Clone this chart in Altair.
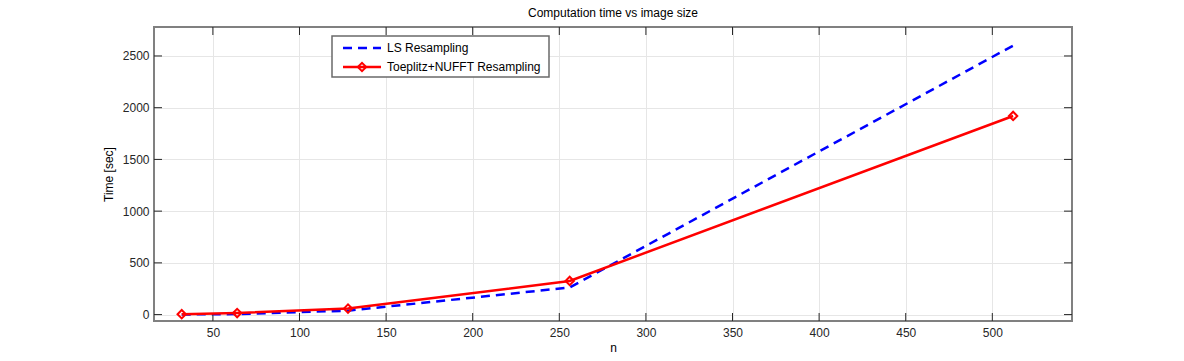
import altair as alt
import pandas as pd

n_vals = [32, 64, 128, 256, 512]
ls_time = [1, 5, 38, 262, 2600]
toep_time = [4, 15, 58, 325, 1920]
x_ticks = [50, 100, 150, 200, 250, 300, 350, 400, 450, 500]
y_ticks = [0, 500, 1000, 1500, 2000, 2500]
series_names = ["LS Resampling", "Toeplitz+NUFFT Resampling"]

W, H = 918, 294
FONT = "Liberation Sans"
TL = 8

xs = alt.Scale(domain=[16, 546], nice=False, zero=False)
ys = alt.Scale(domain=[-62, 2780], nice=False, zero=False)

df_ls = pd.DataFrame({"n": n_vals, "t": ls_time})
df_tp = pd.DataFrame({"n": n_vals, "t": toep_time})
dfx = pd.DataFrame({"n": x_ticks})
dfy = pd.DataFrame({"t": y_ticks})
one = pd.DataFrame({"a": [0]})

X = alt.X("n:Q", scale=xs, title="n",
          axis=alt.Axis(values=x_ticks, grid=True, domain=False, ticks=False, format="d",
                        labelPadding=6, titlePadding=4))
Y = alt.Y("t:Q", scale=ys, title="Time [sec]",
          axis=alt.Axis(values=y_ticks, grid=True, domain=False, ticks=False, format="d",
                        labelPadding=5, titlePadding=7))

ls_line = alt.Chart(df_ls).mark_line(color="#0000ff", strokeWidth=2.5,
                                     strokeDash=[9, 6]).encode(x=X, y=Y)
tp_line = alt.Chart(df_tp).mark_line(color="#ff0000", strokeWidth=2.5).encode(x=X, y=Y)
tp_pts = alt.Chart(df_tp).mark_point(shape="diamond", filled=False, color="#ff0000",
                                     strokeWidth=2, size=70, opacity=1).encode(x=X, y=Y)

tick_color = "#262626"
bx = alt.Chart(dfx).mark_rule(color=tick_color, strokeWidth=1).encode(
    x=X, y=alt.value(H), y2=alt.value(H - TL))
tx = alt.Chart(dfx).mark_rule(color=tick_color, strokeWidth=1).encode(
    x=X, y=alt.value(0), y2=alt.value(TL))
ly = alt.Chart(dfy).mark_rule(color=tick_color, strokeWidth=1).encode(
    y=Y, x=alt.value(0), x2=alt.value(TL))
ry = alt.Chart(dfy).mark_rule(color=tick_color, strokeWidth=1).encode(
    y=Y, x=alt.value(W - TL), x2=alt.value(W))

box = alt.Chart(one).mark_rect(fill=None, stroke="#808080", strokeWidth=2).encode(
    x=alt.value(0), x2=alt.value(W), y=alt.value(0), y2=alt.value(H))

# legend
lg_box = alt.Chart(one).mark_rect(fill="white", stroke="#6a6a6a", strokeWidth=1.5).encode(
    x=alt.value(178), x2=alt.value(395), y=alt.value(9), y2=alt.value(50))
lg_l1 = alt.Chart(one).mark_rule(color="#0000ff", strokeWidth=2.5, strokeDash=[9, 6]).encode(
    x=alt.value(189), x2=alt.value(227), y=alt.value(21))
lg_l2 = alt.Chart(one).mark_rule(color="#ff0000", strokeWidth=2.5).encode(
    x=alt.value(189), x2=alt.value(227), y=alt.value(40))
lg_p2 = alt.Chart(one).mark_point(shape="diamond", filled=False, color="#ff0000",
                                  strokeWidth=2, size=70, opacity=1).encode(
    x=alt.value(208), y=alt.value(40))
lg_t1 = alt.Chart(one).mark_text(align="left", baseline="middle", font=FONT, fontSize=12,
                                 color="black").encode(
    x=alt.value(233), y=alt.value(21), text=alt.value(series_names[0]))
lg_t2 = alt.Chart(one).mark_text(align="left", baseline="middle", font=FONT, fontSize=12,
                                 color="black").encode(
    x=alt.value(233), y=alt.value(40), text=alt.value(series_names[1]))

chart = alt.layer(
    ls_line, box, bx, tx, ly, ry, tp_line, tp_pts,
    lg_box, lg_l1, lg_l2, lg_p2, lg_t1, lg_t2
).properties(
    width=W, height=H,
    title=alt.TitleParams("Computation time vs image size", font=FONT, fontSize=12,
                          fontWeight="normal", color="black", offset=6),
    autosize=alt.AutoSizeParams(type="none"),
    padding={"left": 146, "top": 19, "right": 100, "bottom": 38},
).configure_view(stroke=None).configure_axis(
    labelFont=FONT, labelFontSize=12, labelColor="#262626",
    titleFont=FONT, titleFontSize=12, titleFontWeight="normal", titleColor="black",
    gridColor="#e6e6e6", gridWidth=1,
)

chart.save("out.html", embed_options={"renderer": "svg", "actions": False})
